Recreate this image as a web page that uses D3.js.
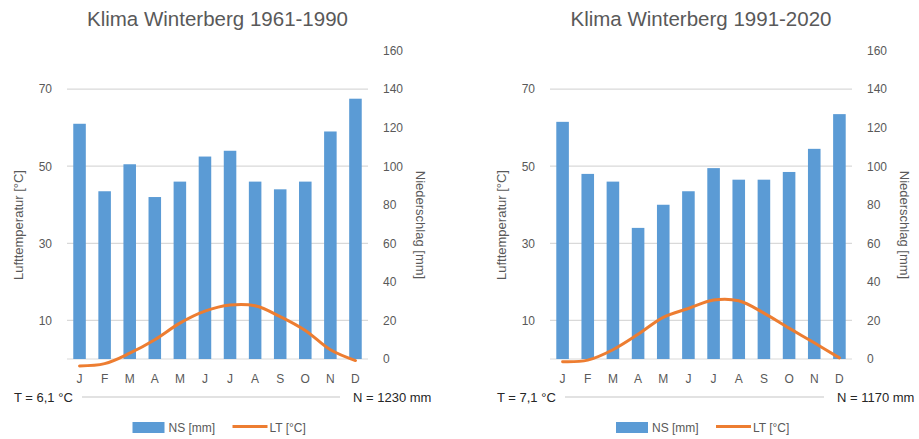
<!DOCTYPE html>
<html>
<head>
<meta charset="utf-8">
<script src="https://cdn.jsdelivr.net/npm/d3@7"></script>
<style>
  body { margin: 0; background: #fff; }
  svg { font-family: "Liberation Sans", Arial, sans-serif; }
</style>
</head>
<body>
<svg id="chart"></svg>
<script>
// Klimadiagramme Winterberg
const months = ['J', 'F', 'M', 'A', 'M', 'J', 'J', 'A', 'S', 'O', 'N', 'D'];

// Niederschlag [mm]
const precip6190 = [122, 87, 101, 84, 92, 105, 108, 92, 88, 92, 118, 135];
const precip9120 = [123, 96, 92, 68, 80, 87, 99, 93, 93, 97, 109, 127];

// Lufttemperatur [°C]
const temp6190 = [-1.8, -1.2, 1.5, 5.0, 9.3, 12.4, 14.0, 13.8, 11.0, 7.4, 2.4, -0.4];
const temp9120 = [-0.7, -0.3, 2.4, 6.4, 10.8, 13.1, 15.3, 15.1, 11.9, 8.0, 4.2, 0.3];

const tempTicks = [10, 30, 50, 70];
const precipTicks = [0, 20, 40, 60, 80, 100, 120, 140, 160];

const charts = [
    {title: 'Klima Winterberg 1961-1990', precip: precip6190, temp: temp6190,
     tLabel: 'T = 6,1 °C', nLabel: 'N = 1230 mm', left: 67, right: 368},
    {title: 'Klima Winterberg 1991-2020', precip: precip9120, temp: temp9120,
     tLabel: 'T = 7,1 °C', nLabel: 'N = 1170 mm', left: 550, right: 852}
];

const svg = d3.select('#chart')
    .attr('width', 919)
    .attr('height', 439);

const textGray = '#595959';
const gridGray = '#d9d9d9';
const barBlue = '#5b9bd5';
const lineOrange = '#ed7d31';

charts.forEach(c => drawClimate(c));

function drawClimate(c) {
    const top = 50.5, bottom = 359;

    const x = d3.scaleBand()
        .domain(d3.range(months.length))
        .range([c.left, c.right])
        .paddingInner(0.5)
        .paddingOuter(0.25);

    const yP = d3.scaleLinear().domain([0, 160]).range([bottom, top]);
    const yT = d3.scaleLinear().domain([0, 80]).range([bottom, top]);

    const g = svg.append('g');
    const mid = (c.left + c.right) / 2;

    // title
    g.append('text')
        .attr('x', mid)
        .attr('y', 26)
        .attr('text-anchor', 'middle')
        .attr('font-size', 20.5)
        .attr('fill', textGray)
        .text(c.title);

    // gridlines + baseline
    g.selectAll('.grid')
        .data([0].concat(tempTicks))
        .join('line')
        .attr('x1', c.left)
        .attr('x2', c.right)
        .attr('y1', d => yT(d))
        .attr('y2', d => yT(d))
        .attr('stroke', gridGray)
        .attr('stroke-width', 1.2);

    // left axis (temperature)
    const yAxisL = d3.axisLeft(yT).tickValues(tempTicks).tickSize(0).tickPadding(0);
    const gl = g.append('g')
        .attr('transform', `translate(${c.left - 15},0)`)
        .call(yAxisL);
    gl.select('.domain').remove();
    gl.selectAll('text').attr('fill', textGray).attr('font-size', 12).attr('font-family', null);

    // right axis (precipitation)
    const yAxisR = d3.axisRight(yP).tickValues(precipTicks).tickSize(0).tickPadding(0);
    const gr = g.append('g')
        .attr('transform', `translate(${c.right + 15},0)`)
        .call(yAxisR);
    gr.select('.domain').remove();
    gr.selectAll('text').attr('fill', textGray).attr('font-size', 12).attr('font-family', null);

    // axis titles
    g.append('text')
        .attr('transform', `translate(${c.left - 44},225) rotate(-90)`)
        .attr('text-anchor', 'middle')
        .attr('font-size', 13)
        .attr('fill', textGray)
        .text('Lufttemperatur [°C]');

    g.append('text')
        .attr('transform', `translate(${c.right + 48},225) rotate(90)`)
        .attr('text-anchor', 'middle')
        .attr('font-size', 13)
        .attr('fill', textGray)
        .text('Niederschlag [mm]');

    // bars
    g.selectAll('.bar')
        .data(c.precip)
        .join('rect')
        .attr('x', (d, i) => x(i))
        .attr('width', x.bandwidth())
        .attr('y', d => yP(d))
        .attr('height', d => yP(0) - yP(d))
        .attr('fill', barBlue);

    // temperature line
    const line = d3.line()
        .x((d, i) => x(i) + x.bandwidth() / 2)
        .y(d => yT(d))
        .curve(d3.curveCatmullRom.alpha(0.5));

    g.append('path')
        .datum(c.temp)
        .attr('d', line)
        .attr('fill', 'none')
        .attr('stroke', lineOrange)
        .attr('stroke-width', 3)
        .attr('stroke-linecap', 'round');

    // month labels
    g.selectAll('.month')
        .data(months)
        .join('text')
        .attr('x', (d, i) => x(i) + x.bandwidth() / 2)
        .attr('y', 383)
        .attr('text-anchor', 'middle')
        .attr('font-size', 12)
        .attr('fill', textGray)
        .text(d => d);

    // annual mean / sum row
    g.append('text')
        .attr('x', c.left - 53)
        .attr('y', 402)
        .attr('font-size', 13)
        .attr('fill', '#262626')
        .text(c.tLabel);

    g.append('line')
        .attr('x1', c.left + 15)
        .attr('x2', c.right - 28)
        .attr('y1', 397)
        .attr('y2', 397)
        .attr('stroke', gridGray)
        .attr('stroke-width', 1.5);

    g.append('text')
        .attr('x', c.right - 15)
        .attr('y', 402)
        .attr('font-size', 13)
        .attr('fill', '#262626')
        .text(c.nLabel);

    // legend
    const lx = mid - 85;
    g.append('rect')
        .attr('x', lx)
        .attr('y', 422)
        .attr('width', 32)
        .attr('height', 11)
        .attr('fill', barBlue);
    g.append('text')
        .attr('x', lx + 36)
        .attr('y', 432)
        .attr('font-size', 12)
        .attr('fill', textGray)
        .text('NS [mm]');
    g.append('line')
        .attr('x1', lx + 100)
        .attr('x2', lx + 135)
        .attr('y1', 426.5)
        .attr('y2', 426.5)
        .attr('stroke', lineOrange)
        .attr('stroke-width', 3);
    g.append('text')
        .attr('x', lx + 137)
        .attr('y', 432)
        .attr('font-size', 12)
        .attr('fill', textGray)
        .text('LT [°C]');
}
</script>
</body>
</html>
